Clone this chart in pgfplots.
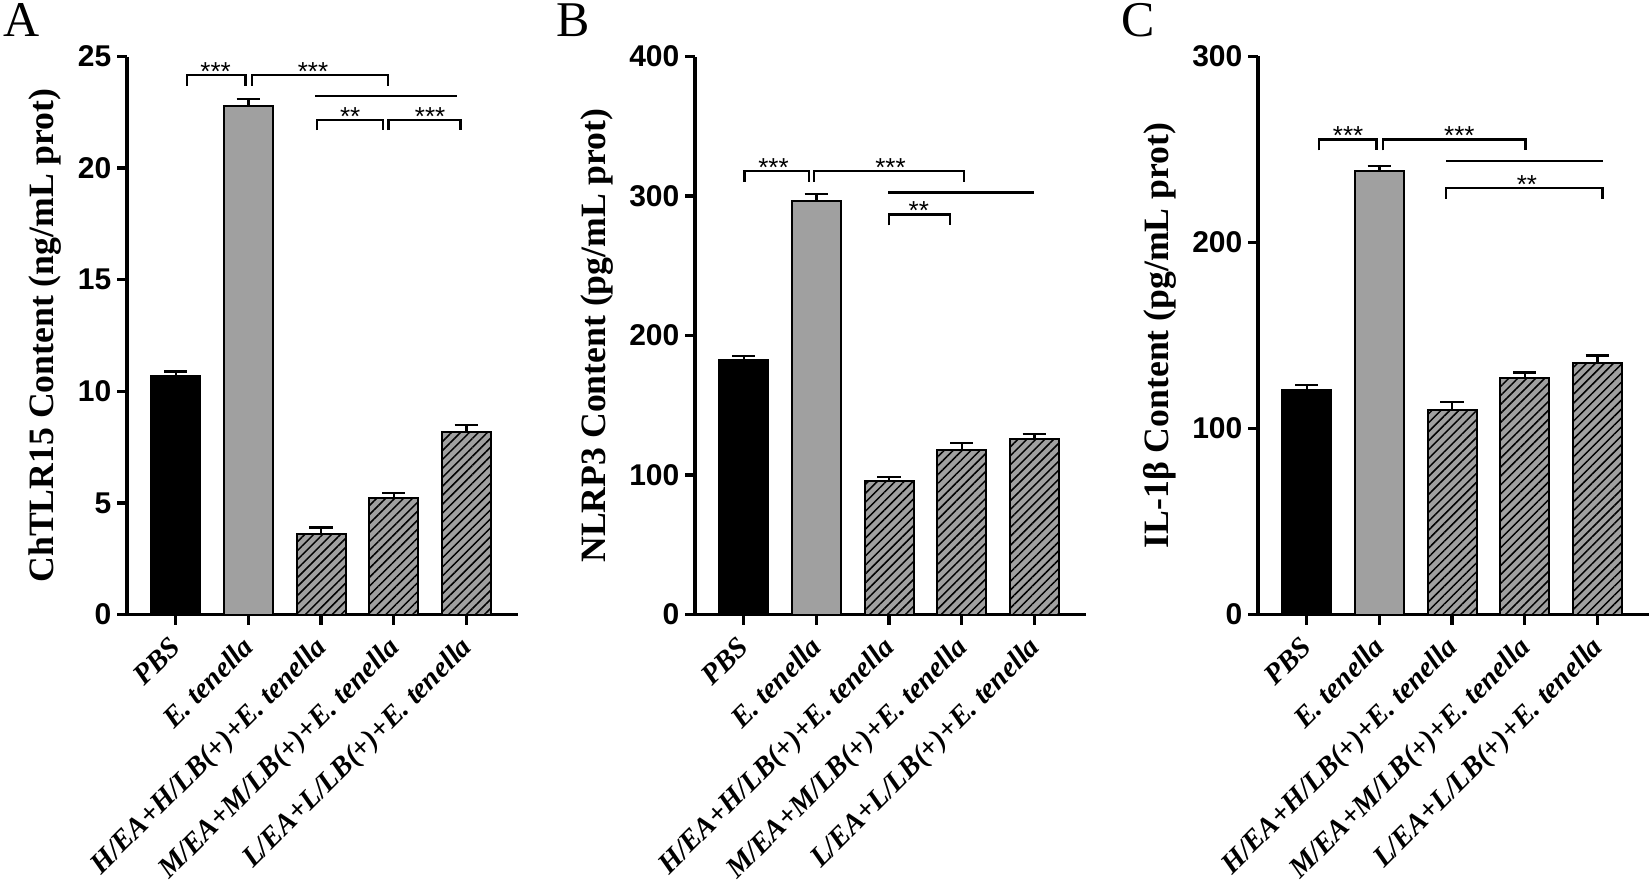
\documentclass[border=0pt]{standalone}
\usepackage{fontspec}
\setmainfont{Liberation Serif}
\newfontfamily\arial{Liberation Sans}
\usepackage{pgfplots}
\pgfplotsset{compat=1.18}
\usetikzlibrary{patterns.meta}

\definecolor{bargray}{RGB}{160,160,160}

\newcommand{\brk}[4]{\draw[line width=0.7pt] (axis cs:#1,#4) |- (axis cs:#2,#3) -- (axis cs:#2,#4);}
\newcommand{\sigline}[3]{\draw[line width=0.7pt] (axis cs:#1,#3) -- (axis cs:#2,#3);}
\newcommand{\stars}[3]{\node[font=\arial\fontsize{7.8}{9}\selectfont, anchor=base, inner sep=0pt, yshift=-1.6pt] at (axis cs:#1,#2) {#3};}

\pgfplotsset{
  panel/.style={
    scale only axis, width=117.3pt, height=167.4pt,
    xmin=-0.67, xmax=4.71, ymin=0,
    axis lines=left, axis line style={-, line width=1pt},
    tick align=outside, major tick length=3pt,
    every tick/.style={black, line width=1pt},
    xtick={0,1,2,3,4},
    xticklabels={PBS, E. tenella, H/EA+H/LB(+)+E. tenella, M/EA+M/LB(+)+E. tenella, L/EA+L/LB(+)+E. tenella},
    xticklabel style={xshift=2.1pt, yshift=-7.2pt, rotate=45, anchor=base east, inner sep=0pt, font=\fontsize{8.7}{10}\selectfont\bfseries\itshape},
    yticklabel style={xshift=-1.5pt, anchor=east, inner sep=0pt, font=\arial\fontsize{9}{10}\selectfont\bfseries},
    /pgf/number format/assume math mode=true,
    clip=false,
    error bars/y dir=plus, error bars/y explicit,
    error bars/error bar style={line width=0.7pt, black, solid},
    error bars/error mark options={rotate=90, line width=0.7pt, mark size=3.5pt, black, solid},
  },
  bars/.style={ybar, bar width=14.7pt, bar shift=0pt, draw=black, line width=0.6pt},
  hatched/.style={bars, fill=bargray, postaction={pattern={Lines[angle=45,distance=1.9pt,line width=0.45pt]}, pattern color=black}},
}

\begin{document}
\begin{tikzpicture}
\useasboundingbox (0,0) rectangle (495.6pt,265.2pt);

\node[anchor=base west, inner sep=0pt, font=\fontsize{15}{17}\selectfont] at (0.9pt,254.1pt) {A};
\node[anchor=base west, inner sep=0pt, font=\fontsize{15}{17}\selectfont] at (166.8pt,254.1pt) {B};
\node[anchor=base west, inner sep=0pt, font=\fontsize{15}{17}\selectfont] at (336.3pt,254.1pt) {C};

% ---------------- Panel A
\begin{axis}[panel, at={(38.1pt,80.85pt)}, anchor=south west,
  ymax=25, ytick={0,5,10,15,20,25},
  every axis y label/.style={at={(axis description cs:-0.187,0.5)}, anchor=base, rotate=90, font=\fontsize{10.7}{12}\selectfont\bfseries},
  ylabel={ChTLR15 Content (ng/mL prot)}]
\addplot[bars, fill=black] coordinates {(0,10.68) +- (0,0.21)};
\addplot[bars, fill=bargray] coordinates {(1,22.80) +- (0,0.30)};
\addplot[hatched] coordinates {(2,3.59) +- (0,0.31) (3,5.22) +- (0,0.22) (4,8.16) +- (0,0.34)};
\brk{0.157}{0.96}{24.17}{23.69}
\brk{1.047}{2.92}{24.17}{23.69}
\sigline{1.92}{3.876}{23.23}
\brk{1.94}{2.85}{22.15}{21.70}
\brk{2.93}{3.92}{22.15}{21.70}
\stars{0.55}{24.17}{***}
\stars{1.89}{24.17}{***}
\stars{2.40}{22.15}{**}
\stars{3.50}{22.15}{***}
\end{axis}

% ---------------- Panel B
\begin{axis}[panel, at={(208.5pt,80.85pt)}, anchor=south west,
  ymax=400, ytick={0,100,200,300,400},
  every axis y label/.style={at={(axis description cs:-0.228,0.5)}, anchor=base, rotate=90, font=\fontsize{10.7}{12}\selectfont\bfseries},
  ylabel={NLRP3 Content (pg/mL prot)}]
\addplot[bars, fill=black] coordinates {(0,182.2) +- (0,3.1)};
\addplot[bars, fill=bargray] coordinates {(1,296.6) +- (0,4.8)};
\addplot[hatched] coordinates {(2,96.0) +- (0,2.6) (3,118.1) +- (0,4.9) (4,125.8) +- (0,3.7)};
\brk{0.01}{0.90}{318.1}{310.2}
\brk{0.97}{3.03}{318.1}{310.2}
\sigline{1.99}{3.99}{302.5}
\brk{2.00}{2.84}{286.7}{279.0}
\stars{0.41}{318.1}{***}
\stars{2.02}{318.1}{***}
\stars{2.41}{286.7}{**}
\end{axis}

% ---------------- Panel C
\begin{axis}[panel, at={(377.4pt,80.85pt)}, anchor=south west,
  ymax=300, ytick={0,100,200,300},
  every axis y label/.style={at={(axis description cs:-0.23,0.5)}, anchor=base, rotate=90, font=\fontsize{10.7}{12}\selectfont\bfseries},
  ylabel={IL-1β Content (pg/mL prot)}]
\addplot[bars, fill=black] coordinates {(0,120.5) +- (0,3.0)};
\addplot[bars, fill=bargray] coordinates {(1,238.2) +- (0,3.0)};
\addplot[hatched] coordinates {(2,109.9) +- (0,4.2) (3,127.1) +- (0,3.0) (4,135.4) +- (0,3.8)};
\brk{0.17}{0.96}{255.3}{249.5}
\brk{1.05}{3.01}{255.3}{249.5}
\sigline{1.92}{4.07}{243.8}
\brk{1.92}{4.07}{229.3}{223.5}
\stars{0.57}{255.3}{***}
\stars{2.10}{255.3}{***}
\stars{3.03}{229.3}{**}
\end{axis}
\end{tikzpicture}
\end{document}
